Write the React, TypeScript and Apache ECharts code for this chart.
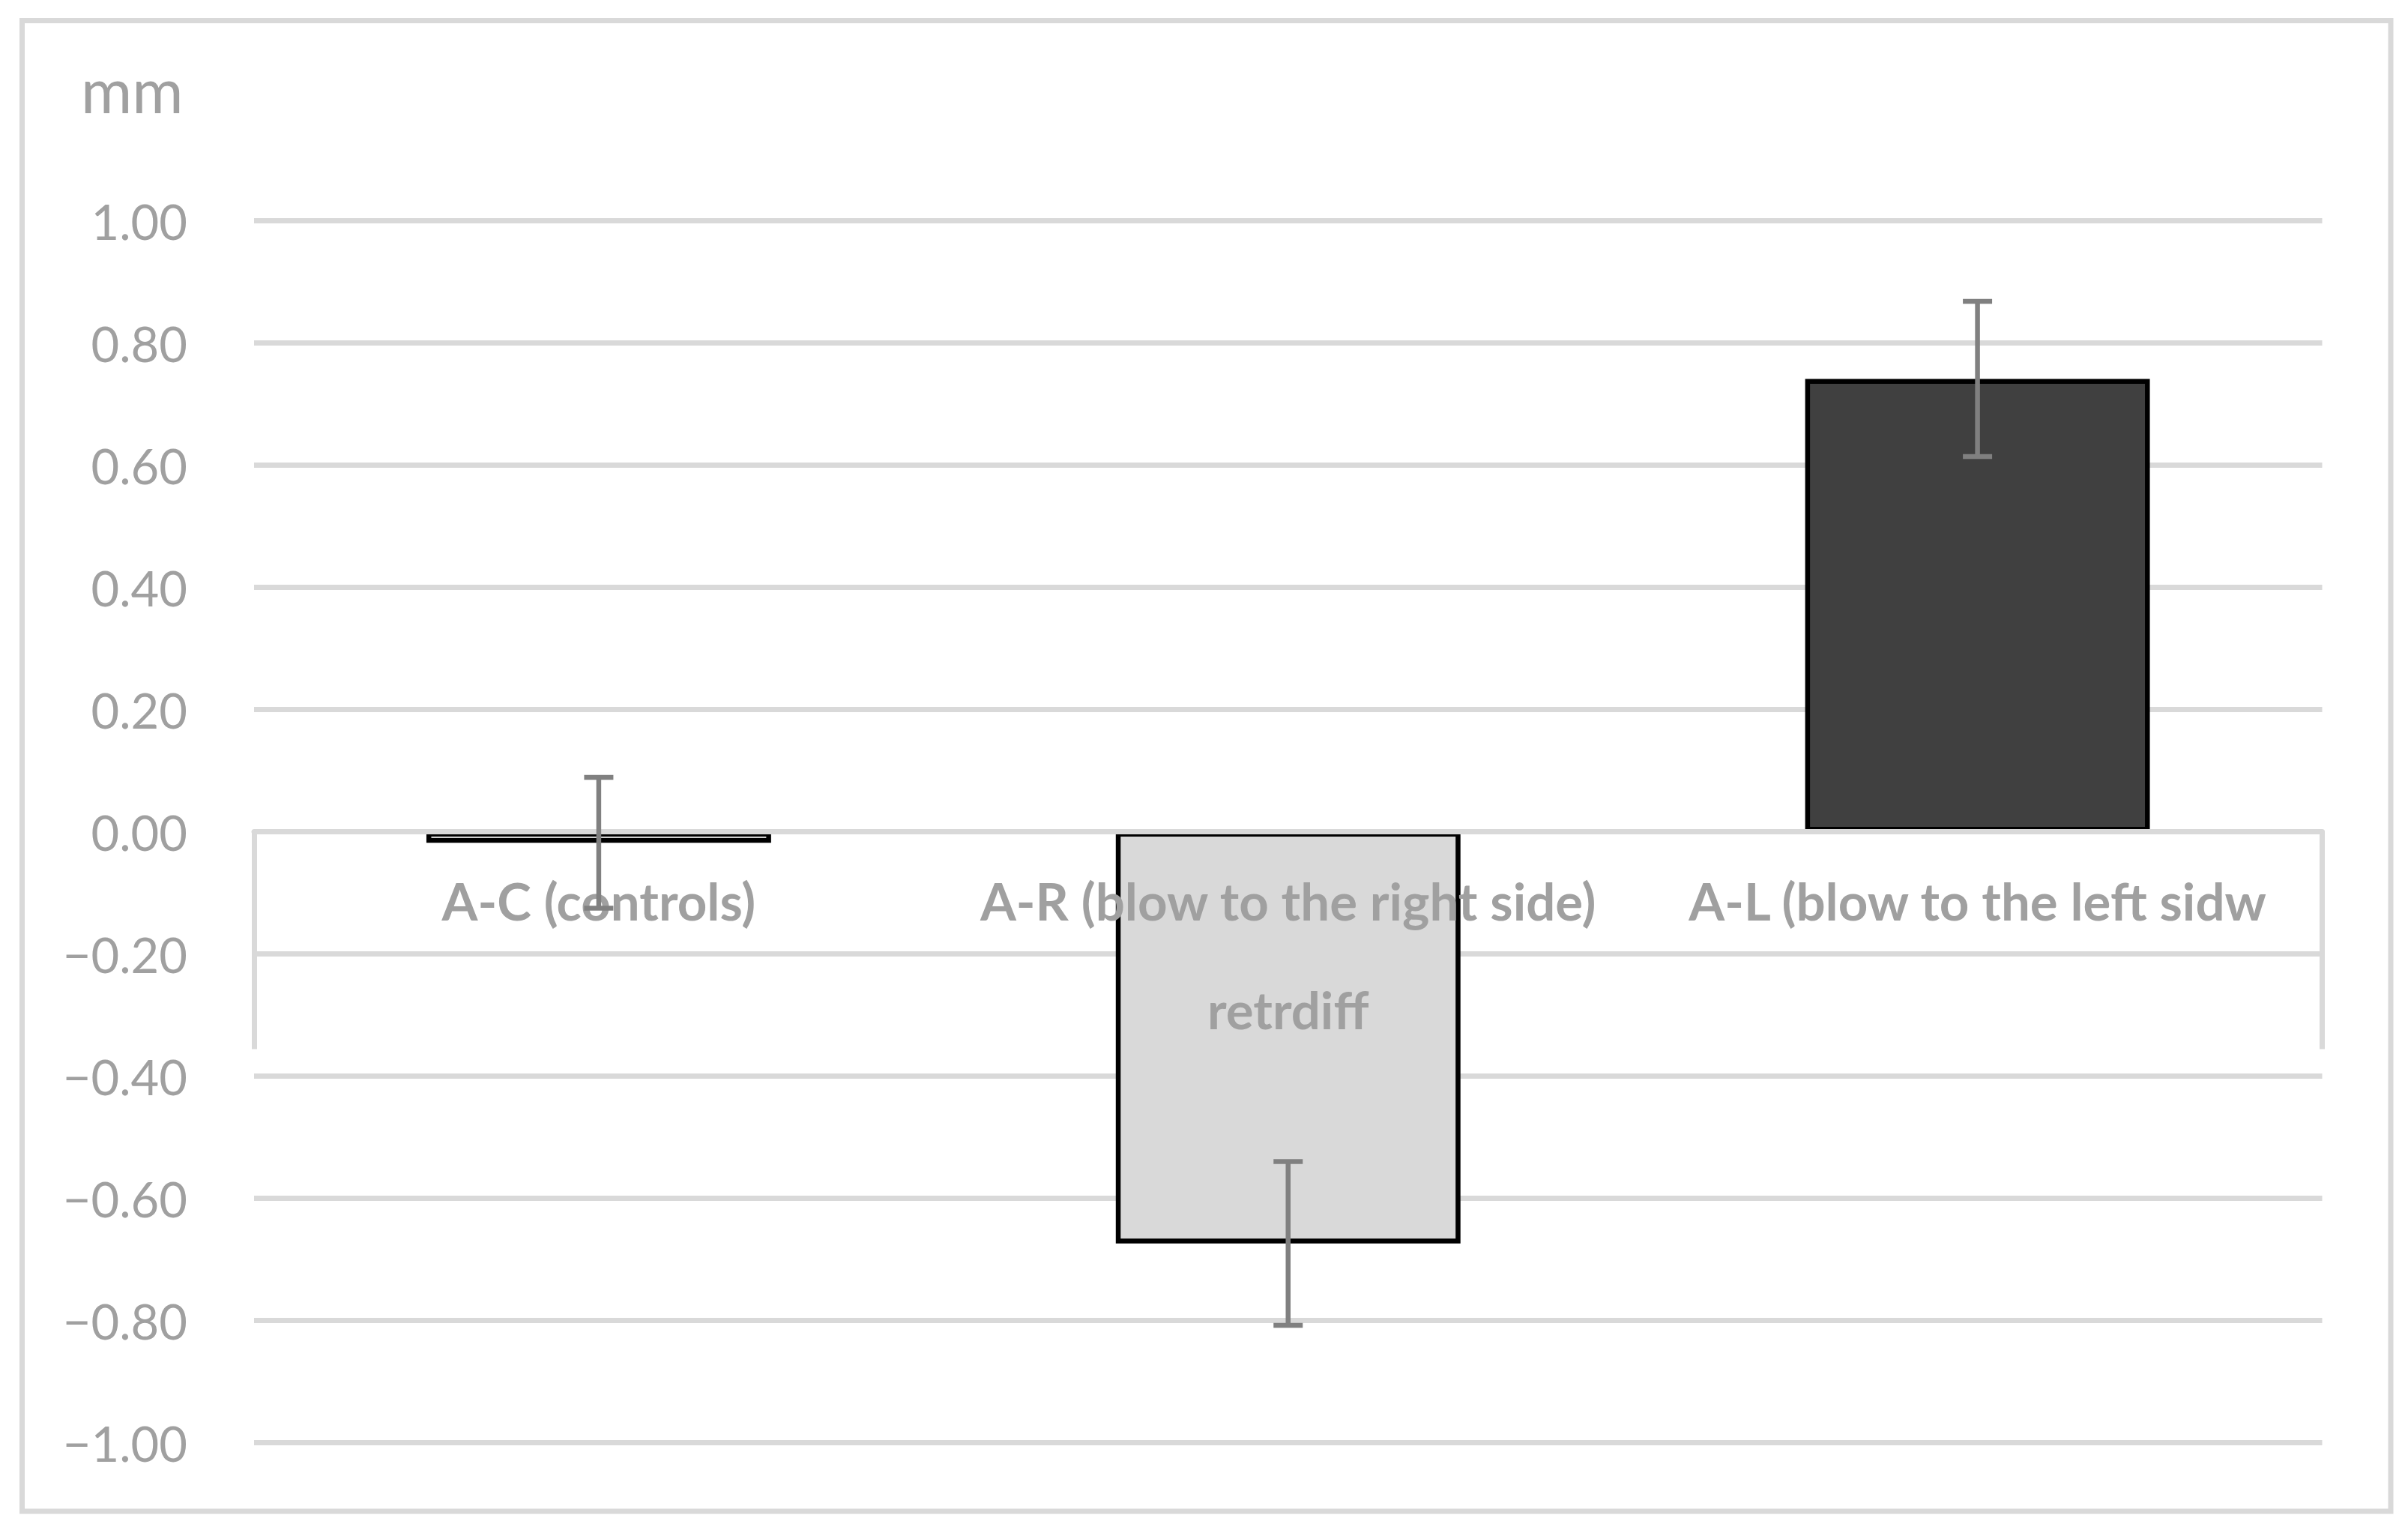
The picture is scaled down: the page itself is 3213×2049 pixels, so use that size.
import React, { useEffect, useRef } from "react";
import * as echarts from "echarts";

const categories = ["A-C (controls)", "A-R (blow to the right side)", "A-L (blow to the left sidw"];
const outerCategory = ["retrdiff"];
const means = [-0.018, -0.674, 0.741];
const errors = [0.107, 0.134, 0.127];
const barColors = ["#FFFFFF", "#D9D9D9", "#404040"];
const yMin = -1;
const yMax = 1;
const yInterval = 0.2;
const yUnit = "mm";

const FONT = "Lato";
const TEXT = "#A0A0A0";
const GRID = "#D9D9D9";

const GRID_TOP = 294.5;
const GRID_BOTTOM = 124.5;
const CHART_H = 2049;

export default function App() {
  const ref = useRef<HTMLDivElement>(null);
  useEffect(() => {
    if (!ref.current) return;
    const chart = echarts.init(ref.current, null, { renderer: "svg" });
    const errData = means.map((m, i) => [i, m, errors[i]]);
    // distance from the grid bottom up to the value 0 on the y scale
    const plotH = CHART_H - GRID_TOP - GRID_BOTTOM;
    const zeroOffset = -plotH * ((0 - yMin) / (yMax - yMin));
    chart.setOption({
      animation: false,
      backgroundColor: "#FFFFFF",
      title: {
        text: yUnit,
        left: 108,
        top: 77,
        padding: 0,
        textStyle: { fontFamily: FONT, fontSize: 83, fontWeight: "normal", color: TEXT },
      },
      graphic: [
        {
          type: "rect",
          z: -10,
          silent: true,
          shape: { x: 29.5, y: 27.5, width: 3160.5, height: 1988.5 },
          style: { fill: "none", stroke: GRID, lineWidth: 7 },
        },
      ],
      grid: {
        left: 339,
        right: 114.5,
        top: GRID_TOP,
        bottom: GRID_BOTTOM,
        containLabel: false,
        outerBoundsMode: "none",
      },
      xAxis: [
        {
          type: "category",
          data: categories,
          position: "bottom",
          offset: zeroOffset,
          z: 3,
          axisLine: { show: true, onZero: false, lineStyle: { color: GRID, width: 7 } },
          axisTick: { show: false },
          axisLabel: {
            interval: 0,
            margin: 57,
            fontFamily: FONT,
            fontSize: 69,
            fontWeight: "bold",
            color: TEXT,
          },
          splitLine: { show: false },
        },
        {
          type: "category",
          data: outerCategory,
          position: "bottom",
          offset: zeroOffset,
          z: 3,
          axisLine: { show: false, onZero: false },
          axisTick: { show: true, length: 290, lineStyle: { color: GRID, width: 7 } },
          axisLabel: {
            interval: 0,
            margin: 202,
            fontFamily: FONT,
            fontSize: 69,
            fontWeight: "bold",
            color: TEXT,
          },
          splitLine: { show: false },
        },
      ],
      yAxis: {
        type: "value",
        min: yMin,
        max: yMax,
        interval: yInterval,
        z: 0,
        axisLine: { show: false },
        axisTick: { show: false },
        axisLabel: {
          margin: 89,
          fontFamily: FONT,
          fontSize: 65,
          color: TEXT,
          formatter: (v: number) => {
            const val = Math.abs(v) < 1e-9 ? 0 : v;
            return val.toFixed(2).replace("-", "\u2212");
          },
        },
        splitLine: { show: true, lineStyle: { color: GRID, width: 7 } },
      },
      series: [
        {
          type: "bar",
          xAxisIndex: 0,
          z: 2,
          barWidth: "50%",
          data: means.map((v, i) => ({
            value: v,
            itemStyle: { color: barColors[i], borderColor: "#000000", borderWidth: 6.5 },
          })),
        },
        {
          type: "custom",
          xAxisIndex: 0,
          z: 5,
          data: errData,
          encode: { x: 0, y: 1 },
          renderItem: (params: any, api: any) => {
            const idx = api.value(0);
            const m = api.value(1);
            const e = api.value(2);
            const top = api.coord([idx, m + e]);
            const bot = api.coord([idx, m - e]);
            const half = 19.5;
            const style = { stroke: "#808080", lineWidth: 6.5 };
            return {
              type: "group",
              children: [
                { type: "line", shape: { x1: top[0], y1: top[1], x2: bot[0], y2: bot[1] }, style },
                { type: "line", shape: { x1: top[0] - half, y1: top[1], x2: top[0] + half, y2: top[1] }, style },
                { type: "line", shape: { x1: bot[0] - half, y1: bot[1], x2: bot[0] + half, y2: bot[1] }, style },
              ],
            };
          },
        },
      ],
    });
    return () => chart.dispose();
  }, []);
  return (
    <div
      ref={ref}
      style={{ position: "absolute", left: 0, top: 0, width: 3213, height: 2049, background: "#FFFFFF" }}
    />
  );
}
